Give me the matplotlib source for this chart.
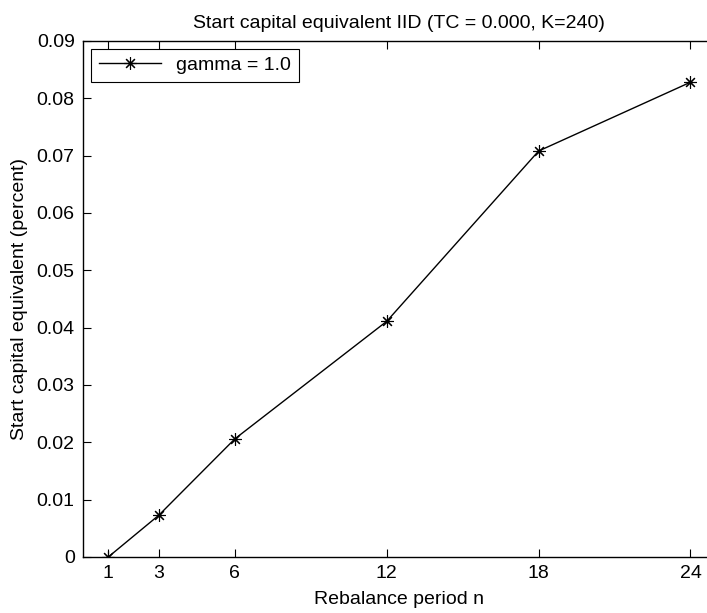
import matplotlib
matplotlib.use("Agg")
import matplotlib.pyplot as plt

# rebalance periods and start capital equivalent (percent)
periods = [1, 3, 6, 12, 18, 24]
sce = [0.0, 0.0073, 0.0206, 0.0411, 0.0708, 0.0828]
yticks = [0, 0.01, 0.02, 0.03, 0.04, 0.05, 0.06, 0.07, 0.08, 0.09]
ytick_labels = ["0", "0.01", "0.02", "0.03", "0.04", "0.05", "0.06", "0.07", "0.08", "0.09"]

plt.rcParams["font.family"] = ["Liberation Sans", "DejaVu Sans"]
plt.rcParams["font.size"] = 14

fig = plt.figure(figsize=(7.07, 6.13), dpi=100)
ax = fig.add_axes([0.1174, 0.0914, 0.895, 0.8418])

ax.plot(periods, sce, color="black", linewidth=1.0,
        marker=(8, 2, 0), markersize=9, markeredgewidth=0.8,
        label="gamma = 1.0")

ax.set_xlim(0, 25)
ax.set_ylim(0, 0.09)
ax.set_xticks(periods)
ax.set_yticks(yticks)
ax.set_yticklabels(ytick_labels)
ax.tick_params(direction="in", top=True, right=True, length=6, width=0.8, pad=6)
for s in ax.spines.values():
    s.set_linewidth(1.0)

ax.set_xlabel("Rebalance period n", labelpad=6)
ax.set_ylabel("Start capital equivalent (percent)", labelpad=6)
ax.set_title("Start capital equivalent IID (TC = 0.000, K=240)", fontsize=14, pad=9)

leg = ax.legend(loc="upper left", fancybox=False, edgecolor="black",
                framealpha=1, handlelength=3.2, borderpad=0.4,
                bbox_to_anchor=(0.0, 1.0), borderaxespad=0.4)
leg.get_frame().set_linewidth(0.8)

fig.savefig("out.png", dpi=100)
